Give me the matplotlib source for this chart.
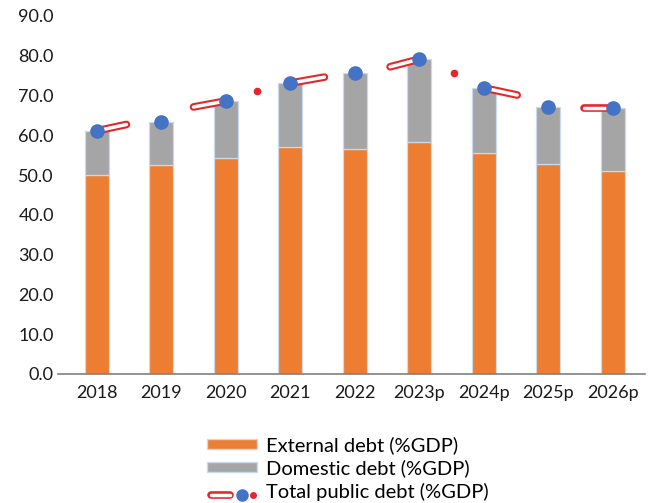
import matplotlib

matplotlib.use("Agg")

import matplotlib.pyplot as plt
import numpy as np
from matplotlib.lines import Line2D
from matplotlib.patches import Patch

plt.rcParams["font.family"] = ["Lato", "DejaVu Sans"]

years = ["2018", "2019", "2020", "2021", "2022", "2023p", "2024p", "2025p", "2026p"]
external_debt = [50.0, 52.5, 54.3, 57.0, 56.5, 58.3, 55.5, 52.8, 51.0]
total_debt = [61.1, 63.3, 68.6, 73.1, 75.6, 79.1, 71.9, 67.1, 66.8]
domestic_debt = [t - e for t, e in zip(total_debt, external_debt)]

# stray capsule strokes hanging off some total-debt markers: (index, dx, dy)
capsule_stubs = [(0, 0.46, 1.6), (2, -0.5, -1.5), (3, 0.53, 1.5),
                 (5, -0.45, -1.9), (6, 0.52, -1.8), (8, -0.45, 0.0)]
# loose red dots between years: (x position, value)
stray_dots = [(2.48, 71.1), (5.54, 75.6)]

ORANGE = "#ED7D31"
GRAY = "#A5A5A5"
BLUE = "#4472C4"
RED = "#E5262B"
EDGE = "#C9D9EE"


class TotalDebtHandler:
    def legend_artist(self, legend, orig_handle, fontsize, handlebox):
        x0, y0 = handlebox.xdescent, handlebox.ydescent
        w, h = handlebox.width, handlebox.height
        ym = y0 + h / 2
        tr = handlebox.get_transform()
        outer = Line2D([x0 + 3, x0 + w * 0.46], [ym, ym], color=RED, lw=5.5,
                       solid_capstyle="round", transform=tr)
        inner = Line2D([x0 + 3, x0 + w * 0.46], [ym, ym], color="white", lw=2.5,
                       solid_capstyle="round", transform=tr)
        dot = Line2D([x0 + w * 0.69], [ym], marker="o", ms=8, color=BLUE, lw=0,
                     transform=tr)
        small = Line2D([x0 + w * 0.92], [ym], marker="o", ms=4, color=RED, lw=0,
                       transform=tr)
        for art in (outer, inner, dot, small):
            handlebox.add_artist(art)
        return outer


fig = plt.figure(figsize=(6.6, 5.03), dpi=100)
ax = fig.add_axes([0.088, 0.2565, 0.889, 0.712])

x = np.arange(len(years))
width = 0.37
ax.bar(x, external_debt, width, color=ORANGE, edgecolor=EDGE, linewidth=0.9, zorder=2)
ax.bar(x, domestic_debt, width, bottom=external_debt, color=GRAY, edgecolor=EDGE,
       linewidth=0.9, zorder=2)

for i, dx, dy in capsule_stubs:
    xs = [x[i], x[i] + dx]
    ys = [total_debt[i], total_debt[i] + dy]
    ax.plot(xs, ys, color=RED, lw=5.5, solid_capstyle="round", zorder=3)
    ax.plot(xs, ys, color="white", lw=2.5, solid_capstyle="round", zorder=3)

ax.plot(x, total_debt, linestyle="none", marker="o", ms=9.5, color=BLUE, zorder=4)
ax.plot([d[0] for d in stray_dots], [d[1] for d in stray_dots], linestyle="none",
        marker="o", ms=4.5, color=RED, zorder=4)

ax.set_xlim(-0.6, 8.5)
ax.set_ylim(0, 90)
ax.set_yticks(np.arange(0, 91, 10))
ax.set_yticklabels([f"{v:.1f}" for v in np.arange(0, 91, 10)])
ax.set_xticks(x)
ax.set_xticklabels(years)
ax.tick_params(axis="both", length=0, labelsize=13, colors="#1a1a1a")
ax.tick_params(axis="y", pad=3)
ax.tick_params(axis="x", pad=8)
for side in ("top", "right", "left"):
    ax.spines[side].set_visible(False)
ax.spines["bottom"].set_color("#808080")
ax.spines["bottom"].set_linewidth(1.2)

handles = [
    Patch(facecolor=ORANGE, edgecolor=EDGE),
    Patch(facecolor=GRAY, edgecolor=EDGE),
    Line2D([], [], color=RED),
]
labels = ["External debt (%GDP)", "Domestic debt (%GDP)", "Total public debt (%GDP)"]
fig.legend(handles, labels, loc="upper center", bbox_to_anchor=(0.527, 0.168),
           frameon=False, fontsize=14.5, handlelength=2.5, handleheight=0.4,
           labelspacing=0.25, handletextpad=0.45,
           handler_map={Line2D: TotalDebtHandler()})

fig.savefig("out.png", dpi=100, facecolor="white")
